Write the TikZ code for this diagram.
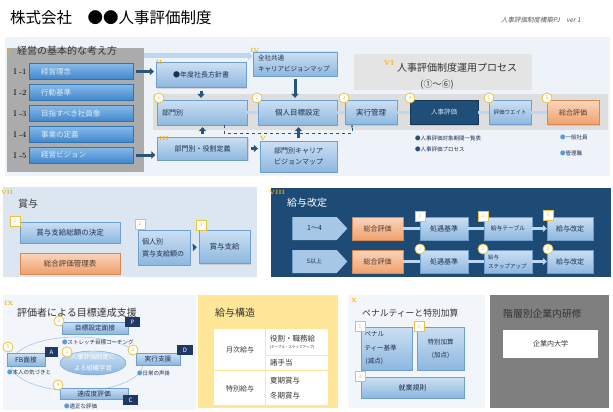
\documentclass[tikz,border=0pt]{standalone}
\usepackage{fontspec}
\setsansfont{Noto Sans CJK JP}
\renewcommand{\familydefault}{\sfdefault}
\newfontfamily\jpslant{Noto Sans CJK JP}[FakeSlant=0.2]
\usepackage{tikz}
\usetikzlibrary{positioning, arrows.meta, shapes.geometric, shapes.symbols, calc, shadows}
\definecolor{topbg}{HTML}{EEF3F9}
\definecolor{secgray}{HTML}{ABABAB}
\definecolor{bandgray}{HTML}{DEDEDE}
\definecolor{vigray}{HTML}{E4E4E4}
\definecolor{barhi}{HTML}{86BAEA}
\definecolor{barlo}{HTML}{3F86CC}
\definecolor{barln}{HTML}{2E75B6}
\definecolor{bartx}{HTML}{DDEBF7}
\definecolor{boxhi}{HTML}{CCE0F3}
\definecolor{boxlo}{HTML}{8DB7DF}
\definecolor{boxln}{HTML}{6E9FCF}
\definecolor{boxtx}{HTML}{1F2F4F}
\definecolor{orhi}{HTML}{FAD5BC}
\definecolor{orlo}{HTML}{F0A06C}
\definecolor{orln}{HTML}{D9884F}
\definecolor{ortx}{HTML}{4A3B30}
\definecolor{navy}{HTML}{1F4E79}
\definecolor{navybg}{HTML}{1E4B76}
\definecolor{pdca}{HTML}{203864}
\definecolor{lnkc}{HTML}{BDD7EE}
\definecolor{arrdk}{HTML}{27557F}
\definecolor{mkln}{HTML}{EBC43F}
\definecolor{mkrn}{HTML}{F2B800}
\definecolor{secvii}{HTML}{DCE6F1}
\definecolor{secix}{HTML}{F2F5F9}
\definecolor{yelbg}{HTML}{FFE699}
\definecolor{grayblk}{HTML}{7F7F7F}
\definecolor{bulblue}{HTML}{5B9BD5}
\definecolor{bulnavy}{HTML}{2F4F6F}
\definecolor{subtx}{HTML}{595959}
\definecolor{darktx}{HTML}{333333}
\definecolor{ellc}{HTML}{A9C8E6}
\definecolor{tagc}{HTML}{A7C7E7}
\newcommand{\fsz}[2]{\fontsize{#1}{#2}\selectfont}

\begin{document}
\begin{tikzpicture}
[x=1pt, y=-1pt,
 bar/.style={rectangle, top color=barhi, bottom color=barlo, draw=barln, text=bartx, font=\fsz{7.5}{9}, minimum width=104pt, minimum height=16pt, text width=80pt, align=left, inner sep=1pt},
 box/.style={rectangle, top color=boxhi, bottom color=boxlo, draw=boxln, text=boxtx, font=\fsz{7}{9}, inner sep=1pt, drop shadow={shadow xshift=1pt, shadow yshift=-1pt, opacity=0.25}},
 obox/.style={box, top color=orhi, bottom color=orlo, draw=orln, text=ortx},
 dbox/.style={rectangle, fill=navy, draw=navy!70!black, text=white!85!navy, font=\fsz{6.5}{8}, inner sep=1pt, drop shadow={shadow xshift=1pt, shadow yshift=-1pt, opacity=0.25}},
 tag/.style={signal, signal to=east, signal pointer angle=95, fill=tagc, text=boxtx, font=\fsz{7}{8}, minimum width=55pt, minimum height=23pt, inner sep=1pt},
 numc/.style={circle, draw=mkln, fill=white, line width=0.8pt, text=mkln, font=\fsz{5}{5}, inner sep=0pt, minimum size=10pt},
 nums/.style={rectangle, draw=mkln, fill=white, line width=0.8pt, text=mkln, font=\fsz{5}{5}, inner sep=0pt, minimum size=10pt},
 rn/.style={text=mkrn, font=\rmfamily\bfseries\fsz{6}{6}, inner sep=0pt},
 lab/.style={font=\rmfamily\fsz{8}{8}, inner sep=0pt},
 sect/.style={font=\fsz{10}{12}, text=darktx, inner sep=0pt, anchor=west},
 pd/.style={rectangle, fill=pdca, text=white, font=\fsz{6}{6}, minimum width=15pt, minimum height=10pt, inner sep=0pt},
 bul/.style={font=\fsz{5.5}{6}, text=boxtx, inner sep=0pt, anchor=west},
 txt/.style={font=\fsz{7}{8}, text=darktx, inner sep=0pt},
 blk/.style={draw=arrdk, line width=3pt, -{Triangle[length=4pt, width=7.5pt]}, shorten <=3pt, shorten >=2pt},
 lnk/.style={draw=lnkc, line width=3pt}]
\useasboundingbox (0,0) rectangle (613,412);
% header
\node[font=\fsz{15.5}{18}, anchor=west, inner sep=0pt] (ttl) at (10,18) {株式会社　●●人事評価制度};
\node[font=\jpslant\fsz{6.5}{8}, text=subtx, anchor=east, inner sep=0pt] (ver) at (581,20) {人事評価制度構築PJ\quad ver 1};

% top part
\fill[topbg] (5,37) rectangle (610,176);
\fill[secgray] (7,48) rectangle (144,172);
\fill[bandgray] (153,94) rectangle (608,130);
\node[rn] (rI) at (9,51) {I};
\node[sect] (tI) at (17,51) {経営の基本的な考え方};
\node[bar] (s1) at (81,71.5) {経営理念};
\node[bar] (s2) at (81,92.5) {行動基準};
\node[bar] (s3) at (81,113.5) {目指すべき社員像};
\node[bar] (s4) at (81,134.5) {事業の定義};
\node[bar] (s5) at (81,155) {経営ビジョン};
\node[lab] (l1) at (20,72) {I -1};
\node[lab] (l2) at (20,93) {I -2};
\node[lab] (l3) at (20,114) {I -3};
\node[lab] (l4) at (20,135) {I -4};
\node[lab] (l5) at (20,155.5) {I -5};

\node[box, minimum width=90pt, minimum height=25pt] (pol) at (201,75) {●年度社長方針書};
\node[box, minimum width=84pt, minimum height=24pt, text width=74pt, align=left, font=\fsz{6.5}{11}] (cmap) at (295,64) {全社共通\\キャリアビジョンマップ};
\node[box, minimum width=90pt, minimum height=25pt, text width=80pt, align=left] (p1) at (202,112.5) {部門別};
\node[box, minimum width=79pt, minimum height=25pt, font=\fsz{7.5}{9}] (p2) at (297.5,112.5) {個人目標設定};
\node[box, minimum width=52pt, minimum height=24pt, font=\fsz{7.5}{9}] (p3) at (371,112.5) {実行管理};
\node[dbox, minimum width=68pt, minimum height=24pt] (p4) at (444,112.5) {人事評価};
\node[box, minimum width=42pt, minimum height=24pt, font=\fsz{5.5}{6}] (p5) at (510,112.5) {評価ウエイト};
\node[obox, minimum width=52pt, minimum height=24pt] (p6) at (573,112.5) {総合評価};
\node[box, minimum width=90pt, minimum height=23pt] (role) at (202.5,148.5) {部門別・役割定義};
\node[box, minimum width=77pt, minimum height=31pt, align=center, font=\fsz{7}{11}] (dmap) at (298.5,156.5) {部門別キャリア\\ビジョンマップ};
\node[fill=vigray, minimum width=178pt, minimum height=36pt, inner sep=0pt] (ops) at (443,72) {};
\node[font=\fsz{10}{12}, text=darktx, inner sep=0pt, anchor=west] (opst) at (397,68) {人事評価制度運用プロセス};
\node[font=\fsz{9}{11}, text=darktx, inner sep=0pt] (opsn) at (437,85) {(①〜⑥)};

\coordinate (feed) at (144,56);
\draw[lnk, line width=5pt, -{Triangle[length=5pt, width=8pt]}] (feed) -- (feed -| cmap.west);
\draw[lnk] (p1.east) -- (p2.west);
\draw[lnk] (p2.east) -- (p3.west);
\draw[lnk] (p3.east) -- (p4.west);
\draw[lnk] (p4.east) -- (p5.west);
\draw[lnk] (p5.east) -- (p6.west);
\draw[blk] (s1.east) -- (s1.east -| pol.west);
\draw[blk] (s5.east) -- (s5.east -| role.west);
\draw[blk] (pol.south) -- (pol.south |- p1.north);
\draw[blk] (cmap.south) -- (cmap.south |- p2.north);
\draw[blk] (role.north) -- (role.north |- p1.south);
\draw[blk] (dmap.north) -- (dmap.north |- p2.south);
\draw[blk, line width=2.5pt] (role.east) -- (role.east -| dmap.west);
\draw[arrdk, thick, dashed, -{Stealth[length=3pt]}] ([xshift=22pt]p1.south) -- ++(0,8) -| ([xshift=-19pt]p3.south);

\node[rn] (rII) at (159,62) {II};
\node[rn] (rIV) at (255,50) {IV};
\node[rn] (rIII) at (164,138) {III};
\node[rn] (rV) at (263,138) {V};
\node[rn, font=\rmfamily\bfseries\fsz{7}{7}] (rVI) at (389,63) {VI};
\node[numc] (c1) at (159,98) {1};
\node[numc] (c2) at (257,98) {2};
\node[numc] (c3) at (344,98) {3};
\node[numc] (c4) at (410,98) {4};
\node[numc] (c5) at (489,98) {5};
\node[numc] (c6) at (547,98) {6};
\node[bul] (b41) at (415,138) {\textcolor{bulnavy}{●}人事評価対象期間一覧表};
\node[bul] (b42) at (415,149) {\textcolor{bulnavy}{●}人事評価プロセス};
\node[bul] (b61) at (560,137) {\textcolor{bulblue}{●}一般社員};
\node[bul] (b62) at (560,153) {\textcolor{bulblue}{●}管理職};

% bonus
\fill[secvii] (3,187) rectangle (257,277);
\node[rn] (rVII) at (7,192) {VII};
\node[sect] (tVII) at (18,204) {賞与};
\node[box, minimum width=100pt, minimum height=21pt, font=\fsz{7.5}{9}] (bt) at (70,232.5) {賞与支給総額の決定};
\node[obox, minimum width=100pt, minimum height=21pt, font=\fsz{7.5}{9}] (bsheet) at (70,263.5) {総合評価管理表};
\node[box, minimum width=52pt, minimum height=35pt, text width=44pt, align=left, font=\fsz{7}{12}] (bind) at (164,247.5) {個人別\\賞与支給額の};
\node[box, minimum width=51pt, minimum height=33pt, font=\fsz{7.5}{9}] (bpay) at (224.5,247) {賞与支給};
\draw[blk, line width=2.5pt] (bind.east) -- (bpay.west);
\node[nums] (q1) at (15,221) {1};
\node[nums] (q2) at (140,224) {2};
\node[nums] (q3) at (201,225) {3};

% salary revision
\fill[navybg] (271,188) rectangle (611,277);
\node[rn] (rVIII) at (277,192) {VIII};
\node[sect, text=white] (tVIII) at (287,203) {給与改定};
\node[tag] (g1) at (314.5,228.5) {1〜4};
\node[obox, minimum width=51pt, minimum height=23pt] (g1e) at (377.5,228.5) {総合評価};
\node[box, minimum width=48pt, minimum height=23pt] (g1a) at (444,228.5) {処遇基準};
\node[box, minimum width=48pt, minimum height=23pt, font=\fsz{5.8}{7}] (g1b) at (508,228.5) {給与テーブル};
\node[box, minimum width=46pt, minimum height=23pt] (g1c) at (570,228.5) {給与改定};
\node[tag, font=\fsz{6}{7}] (g2) at (314.5,261.5) {5以上};
\node[obox, minimum width=51pt, minimum height=23pt] (g2e) at (377.5,261.5) {総合評価};
\node[box, minimum width=48pt, minimum height=23pt] (g2a) at (444,261.5) {処遇基準};
\node[box, minimum width=48pt, minimum height=23pt, text width=40pt, align=left, font=\fsz{5.5}{9}] (g2b) at (508,261.5) {給与\\ステップアップ};
\node[box, minimum width=46pt, minimum height=23pt] (g2c) at (570,261.5) {給与改定};
\draw[lnk] (g1e) -- (g1a);
\draw[lnk] (g1a) -- (g1b);
\draw[lnk, -{Triangle[length=4pt, width=7pt]}] (g1b) -- (g1c);
\draw[lnk] (g2e) -- (g2a);
\draw[lnk] (g2a) -- (g2b);
\draw[lnk, -{Triangle[length=4pt, width=7pt]}] (g2b) -- (g2c);
\node[nums] (k1) at (420,216) {1};
\node[nums] (k2) at (483,216) {2};
\node[nums] (k3) at (548,215) {3};
\node[numc] (j1) at (420,249) {1};
\node[numc] (j2) at (483,249) {2};
\node[numc] (j3) at (548,249) {3};

% goal support
\fill[secix] (3,295) rectangle (196,410);
\node[rn] (rIX) at (9,303) {IX};
\node[sect] (tIX) at (17,313) {評価者による目標達成支援};
\node[ellipse, draw=ellc, line width=0.6pt, minimum width=132pt, minimum height=54pt] (cyc) at (77,364) {};
\node[ellipse, top color=boxhi, bottom color=boxlo, draw=boxln, text=white, font=\fsz{6.3}{11}, align=center, minimum width=66pt, minimum height=24pt, inner sep=0pt] (org) at (93,363) {人事評価制度に\\よる組織学習};
\node[box, minimum width=66pt, minimum height=12pt, font=\fsz{6.7}{8}] (ivp) at (95,328) {目標設定面接};
\node[box, minimum width=38pt, minimum height=13pt, font=\fsz{6.7}{8}] (iva) at (26,359.5) {FB面接};
\node[box, minimum width=44pt, minimum height=12pt, font=\fsz{6.7}{8}] (ivd) at (158,359) {実行支援};
\node[box, minimum width=68pt, minimum height=11pt, font=\fsz{6.7}{8}] (ivc) at (94,393.5) {達成度評価};
\node[pd] (pp) at (132.5,322) {P};
\node[pd, minimum width=13pt] (pa) at (51.5,352) {A};
\node[pd, minimum width=16pt] (pdd) at (185,350) {D};
\node[pd] (pc) at (130.5,400) {C};
\node[bul] (bp) at (62,342) {\textcolor{bulblue}{●}ストレッチ目標コーチング};
\node[bul] (ba) at (7,372) {\textcolor{bulblue}{●}本人の気づきと};
\node[bul] (bd) at (137,373) {\textcolor{bulblue}{●}日常の声掛};
\node[bul] (bc) at (64,406.5) {\textcolor{bulblue}{●}適正な評価};
\node[numc] (m1) at (67,352) {1};
\node[numc] (m2) at (59,321) {2};
\node[numc] (m3) at (133,350) {3};
\node[numc] (m4) at (58,385) {4};
\node[numc] (m5) at (8,347) {5};

% pay structure
\fill[yelbg] (198,295) rectangle (338,408);
\node[sect] (tpay) at (215,313) {給与構造};
\fill[white] (214,329) rectangle (328,405);
\draw[yelbg, line width=1pt] (265,329) -- (265,405);
\draw[yelbg, line width=1pt] (214,370) -- (328,370);
\draw[yelbg, line width=1pt] (265,355) -- (328,355);
\node[txt] (mon) at (240,349.5) {月次給与};
\node[txt] (spe) at (240,389) {特別給与};
\node[txt, anchor=west, font=\fsz{7.5}{8}] (rol) at (270,339) {役割・職務給};
\node[txt, anchor=west, font=\fsz{3.5}{4}] (tbl) at (270,347.5) {(テーブル・ステップアップ)};
\node[txt, anchor=west, font=\fsz{7.5}{8}] (alw) at (270,363) {諸手当};
\node[txt, anchor=west, font=\fsz{7.5}{8}] (sum) at (270,381) {夏期賞与};
\node[txt, anchor=west, font=\fsz{7.5}{8}] (win) at (270,396) {冬期賞与};

% penalty
\fill[secix] (348,295) rectangle (485,408);
\node[rn] (rX) at (354,300) {X};
\node[sect, font=\fsz{8.8}{10}] (tX) at (362,313) {ペナルティーと特別加算};
\node[box, minimum width=51pt, minimum height=43pt, text width=44pt, align=left, font=\fsz{6.5}{13.5}] (pen) at (386.5,348.5) {ペナル\\ティー基準\\\,(減点)};
\node[box, minimum width=47pt, minimum height=43pt, align=center, font=\fsz{6.5}{13}] (add) at (440.5,348.5) {特別加算\\(加点)};
\node[box, minimum width=103pt, minimum height=21pt] (rule) at (412.5,387.5) {就業規則};
\node[nums] (x1) at (360,326.5) {1};
\node[nums] (x2) at (419,326.5) {2};
\node[nums] (x3) at (360,376.5) {3};

% training
\fill[grayblk] (490,295) rectangle (609,408);
\node[sect, font=\fsz{9.8}{11}] (tedu) at (503,314) {階層別企業内研修};
\node[fill=white, minimum width=95pt, minimum height=28pt, font=\fsz{7}{8}, text=darktx] (univ) at (550.5,344) {企業内大学};
\end{tikzpicture}
\end{document}
